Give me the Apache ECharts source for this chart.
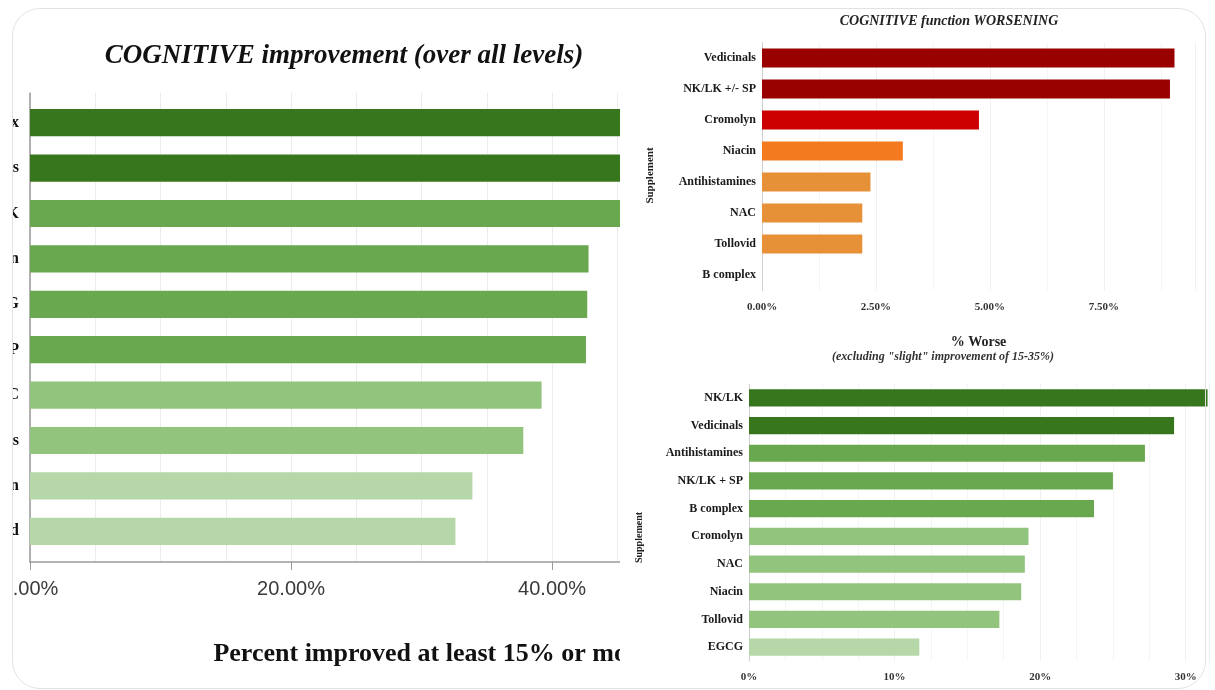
<!DOCTYPE html>
<html>
<head>
<meta charset="utf-8">
<script src="https://cdn.jsdelivr.net/npm/echarts@6/dist/echarts.min.js"></script>
<style>
  html, body { margin: 0; padding: 0; background: #ffffff; }
  body { width: 1215px; height: 690px; position: relative; overflow: hidden; }
  #frame { position: absolute; left: 12px; top: 8px; width: 1192px; height: 679px;
           border: 1.5px solid #e2e2e2; border-radius: 28px; pointer-events: none; z-index: 5; }
  #improve { position: absolute; left: 13px; top: 0; width: 607px; height: 690px; }
  #right { position: absolute; left: 620px; top: 0; width: 595px; height: 690px; }
</style>
</head>
<body>
<div id="improve"></div>
<div id="right"></div>
<div id="frame"></div>
<script>
// ---- Improvement over all levels (percent improved at least 15%) ----
const improveLabels = ['B complex', 'Vedicinals', 'NK/LK', 'Cromolyn', 'EGCG',
                       'NK/LK + SP', 'NAC', 'Antihistamines', 'Niacin', 'Tollovid'];
const improveValues = [52.0, 49.0, 46.5, 42.8, 42.7, 42.6, 39.2, 37.8, 33.9, 32.6];
const improveColors = ['#38761d', '#38761d', '#6aa84f', '#6aa84f', '#6aa84f',
                       '#6aa84f', '#93c47d', '#93c47d', '#b6d7a8', '#b6d7a8'];

// ---- Cognitive function worsening ----
const worseLabels = ['Vedicinals', 'NK/LK +/- SP', 'Cromolyn', 'Niacin',
                     'Antihistamines', 'NAC', 'Tollovid', 'B complex'];
const worseValues = [9.05, 8.95, 4.76, 3.09, 2.38, 2.2, 2.2, 0];
const worseColors = ['#990000', '#990000', '#cc0000', '#f47a20',
                     '#e69138', '#e69138', '#e69138', '#e69138'];

// ---- Improvement excluding slight improvement ----
const strongLabels = ['NK/LK', 'Vedicinals', 'Antihistamines', 'NK/LK + SP', 'B complex',
                      'Cromolyn', 'NAC', 'Niacin', 'Tollovid', 'EGCG'];
const strongValues = [31.5, 29.2, 27.2, 25.0, 23.7, 19.2, 18.95, 18.7, 17.2, 11.7];
const strongColors = ['#38761d', '#38761d', '#6aa84f', '#6aa84f', '#6aa84f',
                      '#93c47d', '#93c47d', '#93c47d', '#93c47d', '#b6d7a8'];

const serif = 'Liberation Serif';
const IMPROVE_MAX = 60;

function colored(values, colors) {
  return values.map((v, i) => ({ value: v, itemStyle: { color: colors[i] } }));
}

// Left panel: the grid runs past the right edge of its canvas, so long bars are cut there.
// Grid 0 carries the frame (axis lines, gridlines, ticks, names); grid 1 carries the bars.
const left = echarts.init(document.getElementById('improve'), null, { renderer: 'canvas' });
left.setOption({
  animation: false,
  backgroundColor: '#ffffff',
  title: {
    text: 'COGNITIVE improvement (over all levels)',
    left: 326, top: 38, textAlign: 'center',
    textStyle: { fontFamily: serif, fontStyle: 'italic', fontWeight: 'bold', fontSize: 27, color: '#111' }
  },
  grid: [
    { left: 17, top: 93, width: 783, height: 469, containLabel: false, outerBoundsMode: 'none' },
    { left: 17, top: 100, width: 783, height: 454, containLabel: false, outerBoundsMode: 'none' }
  ],
  xAxis: [{
    gridIndex: 0, type: 'value', min: 0, max: IMPROVE_MAX, interval: 20,
    name: 'Percent improved at least 15% or more',
    nameLocation: 'middle', nameGap: 79,
    nameTextStyle: { fontFamily: serif, fontWeight: 'bold', fontSize: 26, color: '#111',
                     padding: [0, 0, 0, 20] },
    axisLine: { show: true, lineStyle: { color: '#9a9a9a', width: 1.5 } },
    axisTick: { show: true, length: 8, lineStyle: { color: '#9a9a9a' } },
    axisLabel: {
      margin: 17, fontFamily: 'Liberation Sans', fontSize: 20, color: '#3a3a3a',
      formatter: v => v.toFixed(2) + '%'
    },
    splitLine: { show: true, lineStyle: { color: '#ececec' } },
    minorTick: { show: false, splitNumber: 4 },
    minorSplitLine: { show: true, lineStyle: { color: '#ececec' } }
  }, {
    gridIndex: 1, type: 'value', min: 0, max: IMPROVE_MAX, show: false
  }],
  yAxis: [{
    gridIndex: 0, type: 'category', inverse: true, data: improveLabels,
    axisLine: { show: true, lineStyle: { color: '#9a9a9a', width: 1.5 } },
    axisTick: { show: false }, axisLabel: { show: false }
  }, {
    gridIndex: 1, type: 'category', inverse: true, data: improveLabels,
    axisLine: { show: false }, axisTick: { show: false },
    axisLabel: { margin: 11, fontFamily: serif, fontWeight: 'bold', fontSize: 16, color: '#111' }
  }],
  series: [{
    type: 'bar', xAxisIndex: 1, yAxisIndex: 1,
    data: colored(improveValues, improveColors),
    barCategoryGap: '40%'
  }]
});

// Right panel (two stacked charts)
const right = echarts.init(document.getElementById('right'), null, { renderer: 'canvas' });
right.setOption({
  animation: false,
  backgroundColor: '#ffffff',
  title: {
    text: 'COGNITIVE function WORSENING',
    left: 324, top: 9, textAlign: 'center',
    textStyle: { fontFamily: serif, fontStyle: 'italic', fontWeight: 'bold', fontSize: 14, color: '#222' }
  },
  graphic: [{
    type: 'text', x: 323, y: 357,
    style: {
      text: '(excluding "slight" improvement of 15-35%)',
      font: 'italic bold 12px "Liberation Serif"', fill: '#333',
      textAlign: 'center', textVerticalAlign: 'middle'
    }
  }],
  grid: [
    { left: 142, top: 42.5, width: 433, height: 248, containLabel: false, outerBoundsMode: 'none' },
    { left: 129, top: 384, width: 460, height: 277, containLabel: false, outerBoundsMode: 'none' }
  ],
  xAxis: [{
    gridIndex: 0, type: 'value', min: 0, max: 9.5, interval: 2.5,
    name: '% Worse', nameLocation: 'middle', nameGap: 45,
    nameTextStyle: { fontFamily: serif, fontWeight: 'bold', fontSize: 14, color: '#222' },
    axisLine: { show: false }, axisTick: { show: false },
    axisLabel: { margin: 11, fontFamily: serif, fontWeight: 'bold', fontSize: 11, color: '#333',
                 showMaxLabel: false, formatter: v => v.toFixed(2) + '%' },
    splitLine: { show: true, lineStyle: { color: '#f0f0f0' } },
    minorSplitLine: { show: true, lineStyle: { color: '#f5f5f5' } },
    minorTick: { show: false, splitNumber: 2 }
  }, {
    gridIndex: 1, type: 'value', min: 0, max: 31.6, interval: 10,
    axisLine: { show: false }, axisTick: { show: false },
    axisLabel: { margin: 11, fontFamily: serif, fontWeight: 'bold', fontSize: 11, color: '#333',
                 showMaxLabel: false, formatter: v => v + '%' },
    splitLine: { show: true, lineStyle: { color: '#f0f0f0' } },
    minorSplitLine: { show: true, lineStyle: { color: '#f5f5f5' } },
    minorTick: { show: false, splitNumber: 4 }
  }],
  yAxis: [{
    gridIndex: 0, type: 'category', inverse: true, data: worseLabels,
    name: 'Supplement', nameLocation: 'middle', nameGap: 106,
    nameTextStyle: { fontFamily: serif, fontWeight: 'bold', fontSize: 11, color: '#222',
                     padding: [0, 18, 0, 0] },
    axisLine: { show: true, lineStyle: { color: '#cfcfcf' } },
    axisTick: { show: false },
    axisLabel: { margin: 6, fontFamily: serif, fontWeight: 'bold', fontSize: 12, color: '#1a1a1a' }
  }, {
    gridIndex: 1, type: 'category', inverse: true, data: strongLabels,
    name: 'Supplement', nameLocation: 'middle', nameGap: 105,
    nameTextStyle: { fontFamily: serif, fontWeight: 'bold', fontSize: 10, color: '#222',
                     padding: [0, 30, 0, 0] },
    axisLine: { show: true, lineStyle: { color: '#cfcfcf' } },
    axisTick: { show: false },
    axisLabel: { margin: 6, fontFamily: serif, fontWeight: 'bold', fontSize: 12, color: '#1a1a1a' }
  }],
  series: [{
    type: 'bar', xAxisIndex: 0, yAxisIndex: 0,
    data: colored(worseValues, worseColors), barCategoryGap: '38%'
  }, {
    type: 'bar', xAxisIndex: 1, yAxisIndex: 1,
    data: colored(strongValues, strongColors), barCategoryGap: '38%'
  }]
});
</script>
</body>
</html>
